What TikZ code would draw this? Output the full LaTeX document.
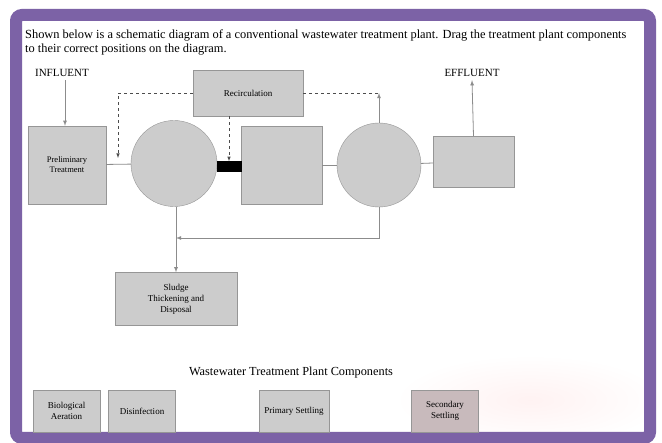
\documentclass[tikz,border=0pt]{standalone}
\usepackage{fontspec}
\setmainfont{Liberation Serif}
\usetikzlibrary{arrows,positioning}
\definecolor{framepurple}{RGB}{124,98,166}
\definecolor{unitgray}{RGB}{204,204,204}
\definecolor{edgegray}{RGB}{150,150,150}
\definecolor{linegray}{RGB}{140,140,140}
\definecolor{pinkgray}{RGB}{200,186,188}

\begin{document}
\begin{tikzpicture}[x=1pt,y=-1pt,
    unitbox/.style={draw=edgegray,fill=unitgray,align=center,inner sep=1pt,
      font=\fontsize{8.5}{10}\selectfont},
    tank/.style={circle,draw=edgegray,fill=unitgray,inner sep=0pt},
    chip/.style={unitbox,minimum width=67,minimum height=42,font=\fontsize{9}{11}\selectfont},
    flow/.style={draw=linegray,line width=0.8pt},
    recycle/.style={draw=black!70,dashed,line width=0.6pt,-latex},
    label/.style={font=\fontsize{11}{12}\selectfont}]
  \useasboundingbox (0,0) rectangle (662,443);
  \fill[white] (0,0) rectangle (662,443);
  % faint glow behind the last chips
  \shade[inner color=red!5,outer color=white] (530,400) ellipse (135 and 45);
  \draw[framepurple,line width=12pt,rounded corners=6pt] (16,15) rectangle (650,438);

  \node[anchor=north west,align=left,inner sep=0pt,
    font=\fontsize{12.4}{14}\selectfont] (intro) at (25,30)
    {Shown below is a schematic diagram of a conventional wastewater treatment plant. Drag the treatment plant components\\
     to their correct positions on the diagram.};

  % plant layout
  \node[unitbox,minimum width=78,minimum height=78] (prelim) at (67,165) {Preliminary\\Treatment};
  \node[tank,minimum size=86] (settle1) at (174,163.5) {};
  \node[unitbox,minimum width=81,minimum height=78] (aerate) at (281.5,165) {};
  \node[tank,minimum size=84] (settle2) at (379,165) {};
  \node[unitbox,minimum width=81,minimum height=51] (disinf) at (473.5,161.5) {};
  \node[unitbox,minimum width=110,minimum height=46,font=\fontsize{9}{10}\selectfont] (recirc) at (248,93) {Recirculation};
  \node[unitbox,minimum width=122,minimum height=53,font=\fontsize{9}{11}\selectfont] (sludge) at (176,299) {Sludge\\Thickening and\\Disposal};
  \node[fill=black,minimum width=25,minimum height=11,inner sep=0pt] (bar) at (229,167) {};

  \node[label] (influent) at (62,73) {INFLUENT};
  \node[label] (effluent) at (472,73) {EFFLUENT};

  \coordinate (mix1) at (118,158);
  \coordinate (ret) at (176,238);

  \draw[flow,-latex] (influent.south -| 65,0) -- (prelim.north -| 65,0);
  \draw[flow] (prelim) -- (settle1);
  \draw[flow] (aerate) -- (settle2);
  \draw[flow] (settle2) -- (disinf);
  \draw[flow,-latex] (disinf.north) -- (effluent.south);
  \draw[flow,-latex] (settle1.south -| sludge.north) -- (sludge.north);
  \draw[flow,-latex] (settle2.south) |- (ret);
  \draw[flow,-latex] (settle2.north) -- (settle2.north |- recirc.east);
  \draw[recycle] (recirc.west) -| (mix1);
  \draw[recycle] (recirc.south -| bar.north) -- (bar.north);
  \draw[recycle,-] (recirc.east) -- (recirc.east -| settle2.north);

  % component tray
  \node[label,font=\fontsize{12.3}{13}\selectfont] (tray) at (291,373) {Wastewater Treatment Plant Components};
  \node[chip] (biochip) at (66.5,411) {Biological\\Aeration};
  \node[chip] (dischip) at (142,411) {Disinfection};
  \node[chip,minimum width=70] (primchip) at (294,411) {Primary Settling};
  \node[chip,fill=pinkgray] (secchip) at (445,411) {Secondary\\Settling};
\end{tikzpicture}
\end{document}
